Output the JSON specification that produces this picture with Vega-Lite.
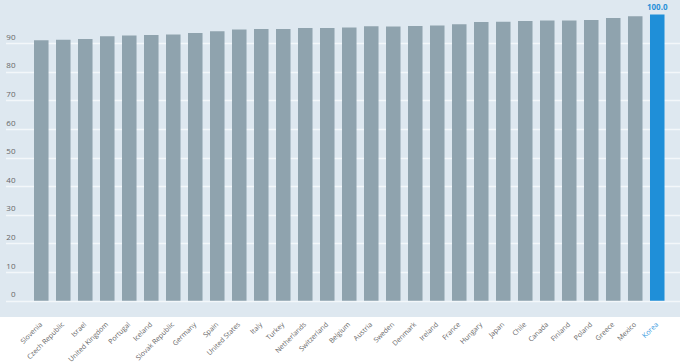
{
  "$schema": "https://vega.github.io/schema/vega-lite/v6.json",
  "width": 680,
  "height": 317,
  "autosize": {"type": "none"},
  "padding": {"top": 0, "left": 0, "right": 0, "bottom": 46},
  "background": "white",
  "view": {"fill": "#dee8f0", "stroke": null},
  "config": {"font": "Open Sans"},
  "data": {"values": [
    {"country": "Slovenia", "value": 91.0},
    {"country": "Czech Republic", "value": 91.2},
    {"country": "Israel", "value": 91.5},
    {"country": "United Kingdom", "value": 92.4},
    {"country": "Portugal", "value": 92.7},
    {"country": "Iceland", "value": 92.9},
    {"country": "Slovak Republic", "value": 93.0},
    {"country": "Germany", "value": 93.6},
    {"country": "Spain", "value": 94.2},
    {"country": "United States", "value": 94.8},
    {"country": "Italy", "value": 95.0},
    {"country": "Turkey", "value": 95.0},
    {"country": "Netherlands", "value": 95.3},
    {"country": "Switzerland", "value": 95.3},
    {"country": "Belgium", "value": 95.5},
    {"country": "Austria", "value": 95.9},
    {"country": "Sweden", "value": 95.8},
    {"country": "Denmark", "value": 96.0},
    {"country": "Ireland", "value": 96.2},
    {"country": "France", "value": 96.6},
    {"country": "Hungary", "value": 97.4},
    {"country": "Japan", "value": 97.5},
    {"country": "Chile", "value": 97.8},
    {"country": "Canada", "value": 97.9},
    {"country": "Finland", "value": 97.9},
    {"country": "Poland", "value": 98.1},
    {"country": "Greece", "value": 98.8},
    {"country": "Mexico", "value": 99.4},
    {"country": "Korea", "value": 100.0}
  ]},
  "encoding": {
    "x": {
      "field": "country",
      "type": "nominal",
      "sort": null,
      "scale": {"paddingInner": 0.34, "paddingOuter": 1, "align": 0.648, "range": [5.5, 680]},
      "axis": {
        "title": null,
        "domain": false,
        "ticks": false,
        "labelAngle": -45,
        "labelAlign": "right",
        "labelBaseline": "middle",
        "labelPadding": 6,
        "labelFontSize": 7,
        "labelOverlap": false,
        "labelLimit": 0,
        "labelColor": {"condition": {"test": "datum.value === 'Korea'", "value": "#3a9be0"}, "value": "#666666"}
      }
    },
    "y": {
      "field": "value",
      "type": "quantitative",
      "scale": {"domain": [-5.7, 105.1], "nice": false, "zero": false},
      "axis": {
        "title": null,
        "values": [0, 10, 20, 30, 40, 50, 60, 70, 80, 90],
        "domain": false,
        "ticks": false,
        "grid": true,
        "gridColor": "#f3f7fa",
        "gridWidth": 1.5,
        "labelPadding": -15,
        "labelAlign": "right",
        "labelBaseline": "bottom",
        "labelOffset": -2,
        "labelOverlap": false,
        "labelFontSize": 8,
        "labelColor": "#666666"
      }
    }
  },
  "layer": [
    {
      "mark": {"type": "bar"},
      "encoding": {
        "y2": {"datum": 0},
        "color": {"condition": {"test": "datum.country === 'Korea'", "value": "#1f8fd8"}, "value": "#8fa3ae"}
      }
    },
    {
      "transform": [{"filter": "datum.country === 'Korea'"}],
      "mark": {"type": "text", "dy": -7, "fontWeight": "bold", "fontSize": 8, "color": "#2a92d8"},
      "encoding": {
        "text": {"field": "value", "type": "quantitative", "format": ".1f"}
      }
    }
  ]
}
